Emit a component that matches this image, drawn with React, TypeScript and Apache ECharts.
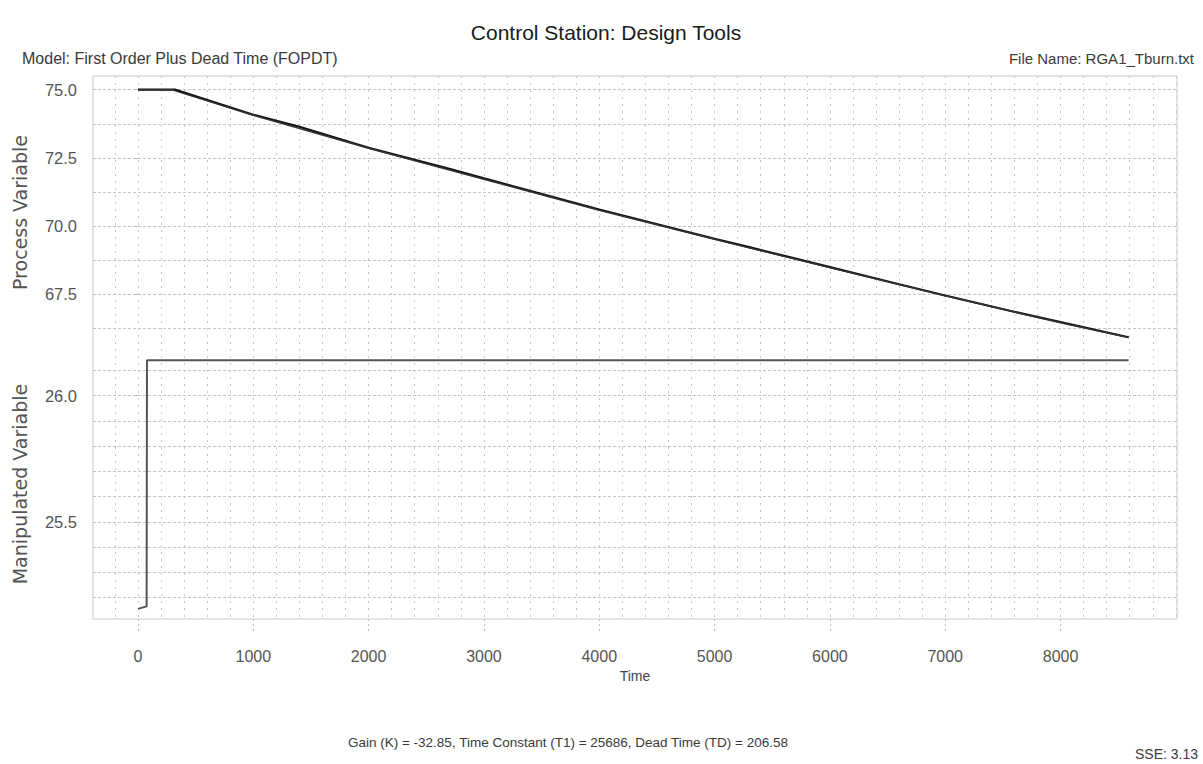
import React, { useEffect, useRef } from "react";
import * as echarts from "echarts";

// ---- data ----
const pvMeasuredTime = [0, 320, 1000, 1400, 2000, 2700, 3000, 4000, 5000, 5300, 6000, 6600, 7000, 7560, 8000, 8590];
const pvMeasured = [75.0, 75.0, 74.08, 73.64, 72.87, 72.1, 71.75, 70.61, 69.54, 69.23, 68.5, 67.87, 67.46, 66.9, 66.49, 65.93];
const pvModelTime = [0, 290, 1000, 2000, 3000, 4000, 5000, 6000, 7000, 8000, 8590];
const pvModel = [75.0, 75.0, 74.06, 72.85, 71.72, 70.58, 69.52, 68.48, 67.45, 66.46, 65.92];
const mvTime = [0, 75, 78, 8590];
const mvValues = [25.155, 25.165, 26.14, 26.14];

const timeLabels = [0, 1000, 2000, 3000, 4000, 5000, 6000, 7000, 8000];
const timeGridTicks = [
  -200, 0, 200, 400, 600, 800, 1000, 1200, 1400, 1600, 1800, 2000, 2200, 2400, 2600, 2800,
  3000, 3200, 3400, 3600, 3800, 4000, 4200, 4400, 4600, 4800, 5000, 5200, 5400, 5600, 5800,
  6000, 6200, 6400, 6600, 6800, 7000, 7200, 7400, 7600, 7800, 8000, 8200, 8400, 8600, 8800, 9000,
];
const pvLabels = [67.5, 70.0, 72.5, 75.0];
const pvGridValues = [66.25, 67.5, 68.75, 70.0, 71.25, 72.5, 73.75, 75.0];
const mvLabels = [25.5, 26.0];
const mvGridValues = [25.2, 25.3, 25.4, 25.5, 25.6, 25.7, 25.8, 25.9, 26.0, 26.1];

const X_MIN = -390;
const X_MAX = 9010;
const PV_MIN = 65.5;
const PV_MAX = 75.5;
const MV_MIN = 25.115;
const MV_MAX = 26.185;

const titleText = "Control Station: Design Tools";
const modelText = "Model: First Order Plus Dead Time (FOPDT)";
const fileText = "File Name: RGA1_Tburn.txt";
const paramText = "Gain (K) = -32.85, Time Constant (T1) = 25686, Dead Time (TD) = 206.58";
const sseText = "SSE: 3.13";

const FONT = "'Liberation Sans', Arial, sans-serif";
const GRID_H = { color: "#c4c4c4", type: [3, 2] as number[], width: 1 };
const GRID_V = { color: "#c8c8c8", type: [2, 5] as number[], width: 1 };

const zip = (a: number[], b: number[]) => a.map((v, i) => [v, b[i]]);

function txt(text: string, x: number, y: number, size: number, align: string, color: string, family = FONT) {
  return {
    type: "text",
    x,
    y,
    silent: true,
    style: {
      text,
      fontSize: size,
      fontFamily: family,
      fill: color,
      align,
      textAlign: align,
      verticalAlign: "middle",
      textVerticalAlign: "middle",
    },
  };
}

export default function App() {
  const ref = useRef<HTMLDivElement>(null);

  useEffect(() => {
    if (!ref.current) return;
    const chart = echarts.init(ref.current, undefined, { renderer: "svg" });

    const hiddenSplitX = (gridIndex: number, pos: string) => ({
      gridIndex,
      type: "value",
      min: X_MIN,
      max: X_MAX,
      position: pos,
      axisLine: { show: false },
      axisTick: { show: false, customValues: timeGridTicks },
      axisLabel: { show: false },
      splitLine: { show: true, lineStyle: GRID_V },
    });

    const option: any = {
      animation: false,
      backgroundColor: "#ffffff",
      textStyle: { fontFamily: FONT },
      graphic: [
        txt(titleText, 606, 32, 21, "center", "#1a1a1a"),
        txt(modelText, 22, 58, 16, "left", "#3a3a3a"),
        txt(fileText, 1194, 58, 15, "right", "#3a3a3a"),
        txt(paramText, 568, 742, 13.5, "center", "#3a3a3a"),
        txt(sseText, 1198, 754, 14, "right", "#3a3a3a"),
      ],
      grid: [
        { left: 93, width: 1084, top: 76, height: 273 },
        { left: 93, width: 1084, top: 349, height: 270 },
        {
          left: 93,
          width: 1084,
          top: 76,
          height: 543,
          show: true,
          borderColor: "#c9c9c9",
          borderWidth: 1,
          backgroundColor: "transparent",
        },
      ],
      xAxis: [
        hiddenSplitX(0, "bottom"),
        {
          gridIndex: 1,
          type: "value",
          min: X_MIN,
          max: X_MAX,
          position: "bottom",
          name: "Time",
          nameLocation: "middle",
          nameGap: 50,
          nameTextStyle: { fontSize: 14, color: "#444", fontFamily: FONT },
          axisLine: { show: false },
          axisTick: {
            show: true,
            customValues: timeLabels,
            length: 15,
            lineStyle: { color: "#bdbdbd", type: [2, 3] },
          },
          axisLabel: {
            customValues: timeLabels,
            formatter: (v: number) => String(v),
            margin: 29,
            fontSize: 16,
            color: "#555",
            fontFamily: FONT,
          },
          splitLine: { show: false },
        },
        hiddenSplitX(1, "top"),
        { gridIndex: 2, type: "value", show: false, min: 0, max: 1 },
      ],
      yAxis: [
        {
          gridIndex: 0,
          type: "value",
          min: PV_MIN,
          max: PV_MAX,
          position: "left",
          name: "Process Variable",
          nameLocation: "middle",
          nameGap: 64,
          nameTextStyle: { fontSize: 19, color: "#555", fontFamily: "'DejaVu Sans', sans-serif" },
          axisLine: { show: false },
          axisTick: { show: true, customValues: pvLabels, length: 5, lineStyle: { color: "#bbb" } },
          axisLabel: {
            customValues: pvLabels,
            formatter: (v: number) => v.toFixed(1),
            margin: 16,
            fontSize: 16.5,
            color: "#555",
            fontFamily: FONT,
          },
          splitLine: { show: false },
        },
        {
          gridIndex: 0,
          type: "value",
          min: PV_MIN,
          max: PV_MAX,
          position: "right",
          axisLine: { show: false },
          axisTick: { show: false, customValues: pvGridValues },
          axisLabel: { show: false },
          splitLine: { show: true, lineStyle: GRID_H },
        },
        {
          gridIndex: 1,
          type: "value",
          min: MV_MIN,
          max: MV_MAX,
          position: "left",
          name: "Manipulated Variable",
          nameLocation: "middle",
          nameGap: 64,
          nameTextStyle: { fontSize: 19, color: "#555", fontFamily: "'DejaVu Sans', sans-serif" },
          axisLine: { show: false },
          axisTick: { show: true, customValues: mvLabels, length: 5, lineStyle: { color: "#bbb" } },
          axisLabel: {
            customValues: mvLabels,
            formatter: (v: number) => v.toFixed(1),
            margin: 16,
            fontSize: 16.5,
            color: "#555",
            fontFamily: FONT,
          },
          splitLine: { show: false },
        },
        {
          gridIndex: 1,
          type: "value",
          min: MV_MIN,
          max: MV_MAX,
          position: "right",
          axisLine: { show: false },
          axisTick: { show: false, customValues: mvGridValues },
          axisLabel: { show: false },
          splitLine: { show: true, lineStyle: GRID_H },
        },
        { gridIndex: 2, type: "value", show: false, min: 0, max: 1 },
      ],
      series: [
        {
          name: "PV measured",
          type: "line",
          xAxisIndex: 0,
          yAxisIndex: 0,
          data: zip(pvMeasuredTime, pvMeasured),
          symbol: "none",
          lineStyle: { color: "#111", width: 2.2 },
          z: 3,
        },
        {
          name: "PV model",
          type: "line",
          xAxisIndex: 0,
          yAxisIndex: 0,
          data: zip(pvModelTime, pvModel),
          symbol: "none",
          lineStyle: { color: "#333", width: 1.5 },
          z: 4,
        },
        {
          name: "MV",
          type: "line",
          xAxisIndex: 1,
          yAxisIndex: 2,
          data: zip(mvTime, mvValues),
          symbol: "none",
          lineStyle: { color: "#555", width: 2 },
          z: 3,
        },
      ],
    };

    chart.setOption(option);
    return () => chart.dispose();
  }, []);

  return (
    <div
      ref={ref}
      style={{ position: "absolute", left: 0, top: 0, width: 1203, height: 764, background: "#fff" }}
    />
  );
}
